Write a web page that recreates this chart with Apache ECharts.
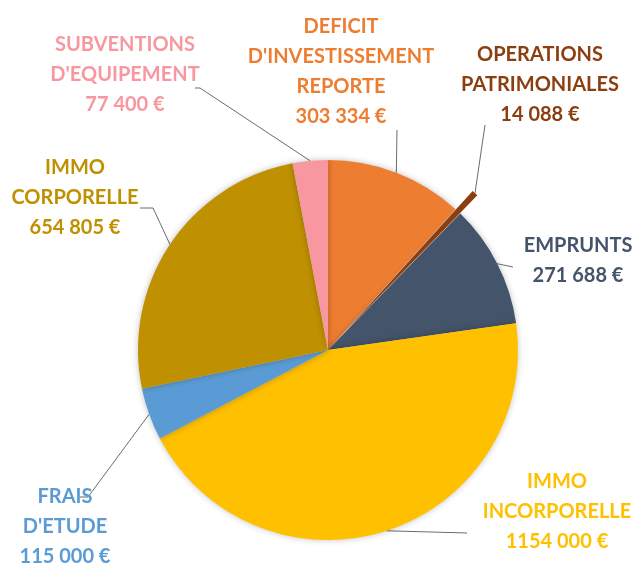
<!DOCTYPE html>
<html>
<head>
<meta charset="utf-8">
<script src="https://cdn.jsdelivr.net/npm/echarts@6/dist/echarts.min.js"></script>
<style>
  html, body { margin: 0; padding: 0; background: #fff; }
  #chart { width: 637px; height: 567px; }
</style>
</head>
<body>
<div id="chart"></div>
<script>
// données
const categories = [
  "DEFICIT\nD'INVESTISSEMENT\nREPORTE",
  "OPERATIONS\nPATRIMONIALES",
  "EMPRUNTS",
  "IMMO\nINCORPORELLE",
  "FRAIS\nD'ETUDE",
  "IMMO\nCORPORELLE",
  "SUBVENTIONS\nD'EQUIPEMENT"
];
const values = [303334, 14088, 271688, 1154000, 115000, 654805, 77400];
const colors = ["#ED7D31", "#8B3E0F", "#44546A", "#FFC000", "#5B9BD5", "#BF9000", "#F8979F"];
const explodedIndex = 1; // part détachée (OPERATIONS PATRIMONIALES)

// position des étiquettes (centre du bloc texte) et fin des traits de rappel
const labelPos = [[341, 72], [540, 85], [578, 261], [557, 512], [65, 527], [75, 198], [125, 75]];
const lineEnds = [
  [[397, 130]],
  [[485, 125]],
  [[513, 267]],
  [[467, 533]],
  [[88, 497], [80, 497]],
  [[153, 208], [140, 208]],
  [[200, 88], [195, 88]]
];

function fmtEuro(v) {
  const k = Math.floor(v / 1000);
  const r = String(v % 1000).padStart(3, "0");
  return (k > 0 ? k + " " + r : r) + " €";
}

const chart = echarts.init(document.getElementById("chart"));

const labelBase = {
  show: true,
  position: "outside",
  fontFamily: "Lato",
  fontWeight: "bold",
  fontSize: 20,
  lineHeight: 30,
  align: "center",
  formatter: p => p.name + "\n" + fmtEuro(p.value)
};

const labelLayout = params => {
  const i = params.dataIndex;
  const start = params.labelLinePoints ? params.labelLinePoints[0] : null;
  const out = {
    x: labelPos[i][0],
    y: labelPos[i][1],
    align: "center",
    verticalAlign: "middle"
  };
  if (start) out.labelLinePoints = [start].concat(lineEnds[i]);
  return out;
};

// décalage de la part détachée, le long de son angle médian
const radius = 190;
const center = [328, 350];
const total = values.reduce((a, b) => a + b, 0);
const before = values.slice(0, explodedIndex).reduce((a, b) => a + b, 0);
const midAngle = (before + values[explodedIndex] / 2) / total * 2 * Math.PI;
const offset = 25;
const center2 = [center[0] + offset * Math.sin(midAngle), center[1] - offset * Math.cos(midAngle)];

const option = {
  animation: false,
  series: [
    {
      type: "pie",
      center: center,
      radius: radius,
      startAngle: 90,
      clockwise: true,
      avoidLabelOverlap: false,
      silent: true,
      itemStyle: {
        borderWidth: 0,
        shadowBlur: 6,
        shadowColor: "rgba(0,0,0,0.25)"
      },
      label: labelBase,
      labelLine: {
        show: true,
        length: 10,
        length2: 10,
        lineStyle: { color: "#6b6b6b", width: 1 }
      },
      labelLayout: labelLayout,
      data: categories.map((name, i) => ({
        name: name,
        value: values[i],
        itemStyle: { color: i === explodedIndex ? "rgba(0,0,0,0)" : colors[i], shadowBlur: i === explodedIndex ? 0 : 6 },
        label: { show: i !== explodedIndex, color: colors[i] },
        labelLine: { show: i !== explodedIndex }
      }))
    },
    {
      type: "pie",
      center: center2,
      radius: radius,
      startAngle: 90,
      clockwise: true,
      avoidLabelOverlap: false,
      silent: true,
      itemStyle: { borderWidth: 0 },
      label: labelBase,
      labelLine: {
        show: true,
        length: 10,
        length2: 10,
        lineStyle: { color: "#6b6b6b", width: 1 }
      },
      labelLayout: labelLayout,
      data: categories.map((name, i) => ({
        name: name,
        value: values[i],
        itemStyle: { color: i === explodedIndex ? colors[i] : "rgba(0,0,0,0)" },
        label: { show: i === explodedIndex, color: colors[i] },
        labelLine: { show: i === explodedIndex }
      }))
    }
  ]
};

chart.setOption(option);
</script>
</body>
</html>
